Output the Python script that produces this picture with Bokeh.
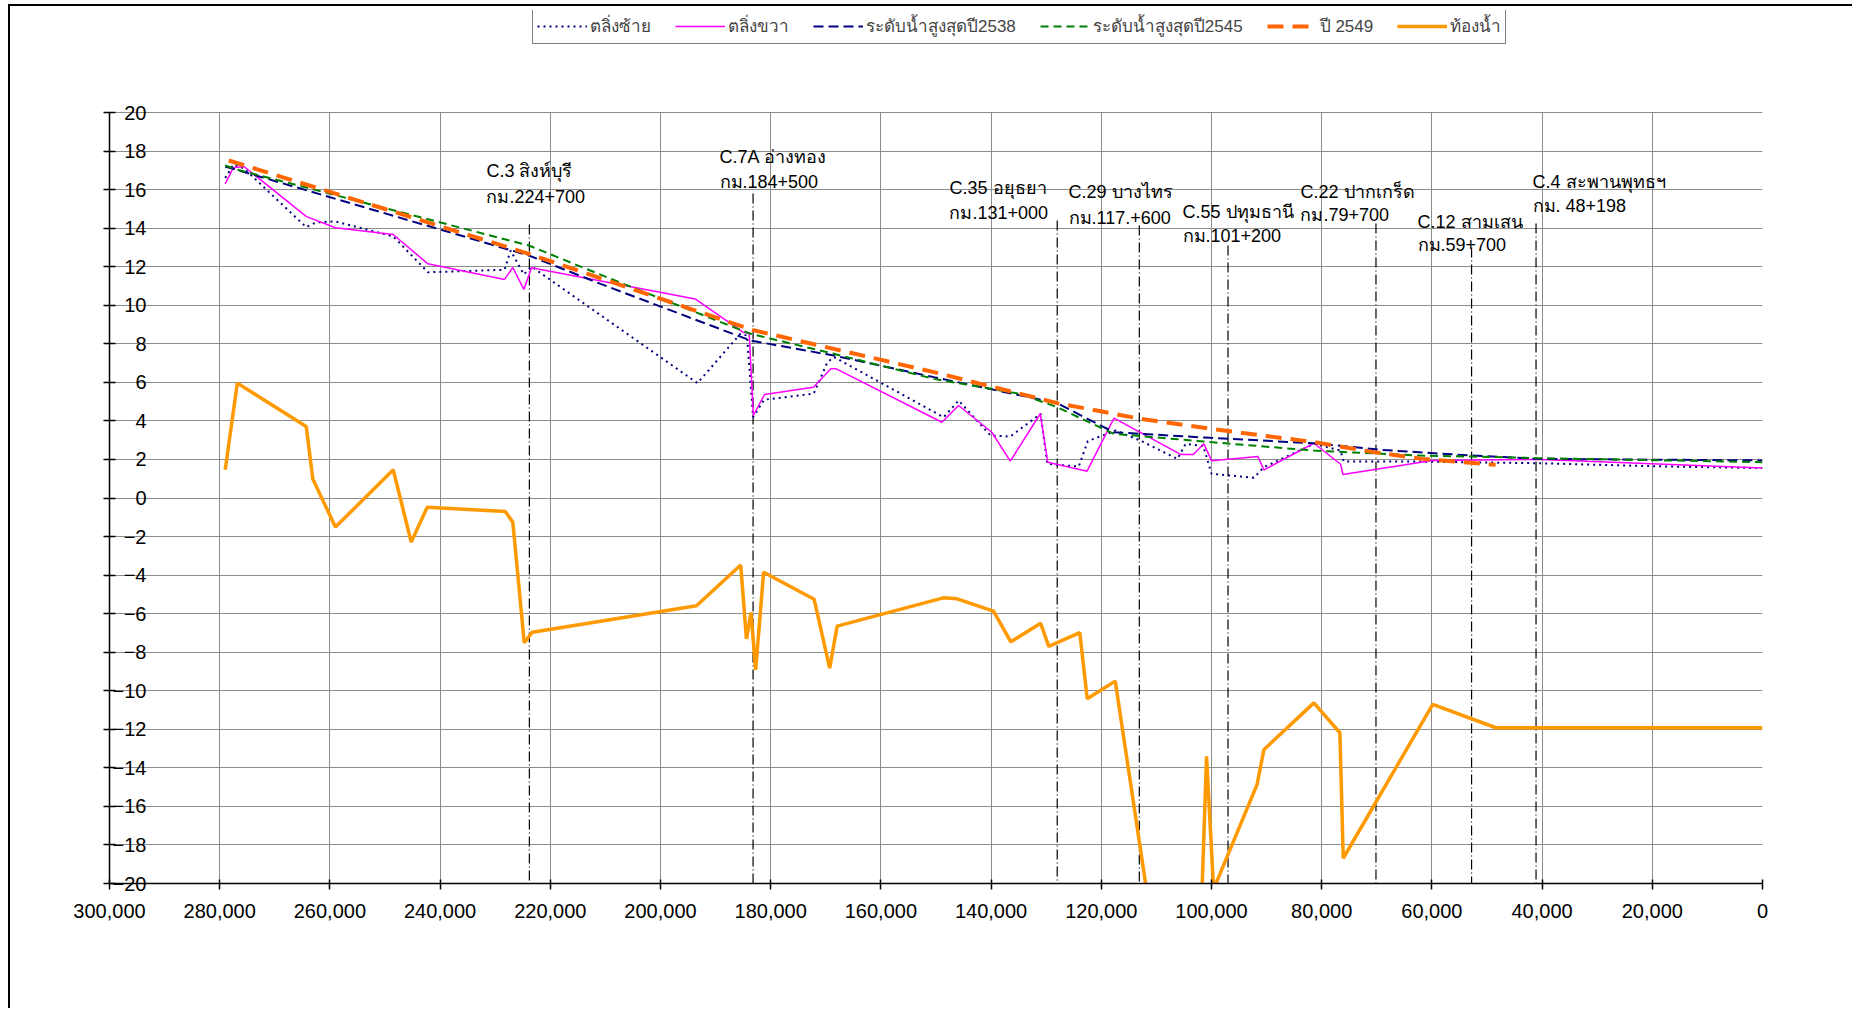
from bokeh.plotting import figure
from bokeh.models import (Range1d, FixedTicker, NumeralTickFormatter, Legend,
                          LegendItem, LabelSet, ColumnDataSource)
from bokeh.core.properties import value
from bokeh.embed import file_html
from bokeh.resources import INLINE

# ---------------- data ----------------
left_x = [279000, 277500, 275600, 264300, 262500, 259000, 248500, 242200, 228300, 227200,
          224800, 223400, 193300, 185500, 184300, 183200, 181200, 172200, 169700, 168500,
          148600, 145900, 140100, 136500, 131000, 129800, 124100, 122450, 117400, 112900,
          106200, 104700, 101500, 100000, 92300, 90500, 81400, 76600, 76000, 62000,
          40000, 20000, 0]
left_y = [16.6, 17.3, 17.1, 14.05, 14.3, 14.35, 13.57, 11.71, 11.84, 12.84,
          11.6, 12.0, 5.96, 8.52, 8.43, 4.19, 5.10, 5.41, 7.05, 7.31,
          4.19, 5.06, 3.24, 3.19, 4.37, 1.77, 1.63, 2.95, 3.50, 2.98,
          2.03, 2.81, 2.70, 1.26, 1.05, 1.60, 2.81, 2.46, 1.89, 1.89,
          1.80, 1.65, 1.55]

right_x = [279000, 277550, 275600, 264250, 258980, 248510, 242220, 228310, 226800, 224800,
           223410, 193700, 185040, 183910, 183150, 181120, 172240, 169090, 168110, 148920,
           145910, 139880, 136510, 131080, 129720, 122590, 117690, 105610, 103310, 101380,
           99980, 91580, 90490, 81420, 76570, 76150, 59930, 40270, 0]
right_y = [16.3, 17.13, 17.2, 14.6, 14.02, 13.67, 12.15, 11.34, 11.96, 10.82,
           11.94, 10.33, 8.60, 8.55, 4.28, 5.37, 5.75, 6.70, 6.70, 3.93,
           4.80, 3.41, 1.91, 4.37, 1.86, 1.39, 4.14, 2.26, 2.26, 2.81,
           1.93, 2.15, 1.46, 2.84, 1.75, 1.22, 1.95, 2.00, 1.55]

max2538_x = [279000, 223900, 210880, 183660, 168540, 150390, 128000, 120740, 117720,
             100170, 81420, 69310, 52670, 40880, 0]
max2538_y = [17.2, 12.58, 11.11, 8.17, 7.39, 6.27, 4.92, 3.85, 3.41,
             3.12, 2.84, 2.50, 2.20, 2.03, 1.95]

max2545_x = [279000, 277000, 223900, 207560, 183660, 168540, 150390, 134650, 128000,
             117720, 100170, 81420, 62050, 52670, 40880, 0]
max2545_y = [17.25, 17.05, 13.10, 11.20, 8.52, 7.48, 6.18, 5.40, 4.71,
             3.33, 2.90, 2.46, 2.20, 2.15, 2.07, 1.86]

y2549_x = [278350, 223900, 183350, 150390, 134650, 128000, 112880, 100170, 81420,
           70590, 61640, 48430]
y2549_y = [17.51, 12.67, 8.72, 6.53, 5.40, 4.92, 4.11, 3.59, 2.90,
           2.38, 2.03, 1.72]

bed_x = [279000, 276800, 264300, 263100, 259000, 248500, 245240, 242340, 228160, 226800,
         224730, 223260, 193460, 185440, 184400, 183570, 182730, 181280, 172120, 169300,
         167940, 148670, 146160, 139560, 136420, 131010, 129540, 123910, 122550, 117470,
         103560, 100900, 99620, 91720, 90500, 81420, 76700, 76090, 59850, 48390, 0]
bed_y = [1.46, 5.96, 3.71, 0.99, -1.51, 1.46, -2.29, -0.48, -0.70, -1.26,
         -7.51, -6.96, -5.59, -3.48, -7.31, -5.94, -8.91, -3.85, -5.25, -8.83,
         -6.65, -5.18, -5.23, -5.87, -7.46, -6.50, -7.70, -6.98, -10.42, -9.50,
         -36.0, -13.40, -20.3, -14.86, -13.06, -10.63, -12.18, -18.69, -10.71, -11.92, -11.92]

series_names = ["ตลิ่งซ้าย", "ตลิ่งขวา", "ระดับน้ำสูงสุดปี2538",
                "ระดับน้ำสูงสุดปี2545", "ปี 2549", "ท้องน้ำ"]

station_names = ["C.3 สิงห์บุรี", "C.7A อ่างทอง", "C.35 อยุธยา", "C.29 บางไทร",
                 "C.55 ปทุมธานี", "C.22 ปากเกร็ด", "C.12 สามเสน", "C.4 สะพานพุทธฯ"]
station_km = ["กม.224+700", "กม.184+500", "กม.131+000", "กม.117.+600",
              "กม.101+200", "กม.79+700", "กม.59+700", "กม. 48+198"]
station_x = [223800, 183200, 128000, 113100, 97000, 70150, 52800, 41100]

x_ticks = list(range(0, 300001, 20000))
y_ticks = list(range(-20, 21, 2))

# ---------------- layout / placement ----------------
line_top = [14.19, 15.8, 14.4, 14.14, 13.1, 14.24, 13.0, 14.24]
label_x = [231580, 189290, 147550, 125950, 105260, 83850, 62610, 41740]
label_y1 = [16.99, 17.67, 16.06, 15.85, 14.86, 15.90, 14.34, 16.42]
label_y2 = [15.64, 16.37, 14.81, 14.55, 13.57, 14.66, 13.10, 15.17]

# frame extends above y=20 so the legend (an in-frame annotation) is not clipped
Y_TOP = 20 + 102 / 19.275

p = figure(frame_width=1653, frame_height=873,
           min_border_left=99, min_border_right=90,
           min_border_top=4, min_border_bottom=125,
           x_range=Range1d(300000, 0), y_range=Range1d(-20, Y_TOP),
           output_backend="svg", toolbar_location=None,
           background_fill_color="white", border_fill_color="white",
           outline_line_color=None)
p.styles = {"border-top": "2px solid black", "border-left": "2px solid black",
            "margin-left": "8px", "margin-top": "4px"}

# axes
p.xaxis.ticker = FixedTicker(ticks=x_ticks)
p.yaxis.ticker = FixedTicker(ticks=y_ticks)
p.xaxis.formatter = NumeralTickFormatter(format="0,0")
p.yaxis.bounds = (-20, 20)
for ax in (p.xaxis[0], p.yaxis[0]):
    ax.axis_line_color = "black"
    ax.axis_line_width = 1.5
    ax.major_tick_line_color = "black"
    ax.major_tick_line_width = 1.5
    ax.minor_tick_line_color = None
    ax.major_label_text_font = "Liberation Sans"
    ax.major_label_text_font_size = "20px"
    ax.major_label_text_color = "black"
p.xaxis.major_tick_in = 4
p.xaxis.major_tick_out = 6
p.xaxis.major_label_standoff = 14
p.yaxis.major_tick_in = 6
p.yaxis.major_tick_out = 6
p.yaxis.major_label_standoff = -43

p.xgrid.grid_line_color = "#8c8c8c"
p.ygrid.grid_line_color = "#8c8c8c"
p.xgrid.grid_line_width = 1
p.ygrid.grid_line_width = 1
p.xgrid.cross_bounds = (-20, 20)

# station reference lines
p.segment(x0=station_x, y0=line_top, x1=station_x, y1=[-20.8] * len(station_x),
          line_color="black", line_width=1.2, line_dash="10 3 1 3")

# series
r1 = p.line(left_x, left_y, line_color="#000080", line_width=2, line_dash="2 4")
r2 = p.line(right_x, right_y, line_color="#ff00ff", line_width=1.5)
r3 = p.line(max2538_x, max2538_y, line_color="#000080", line_width=2, line_dash="10 5")
r4 = p.line(max2545_x, max2545_y, line_color="#008000", line_width=2, line_dash="8 5")
r5 = p.line(y2549_x, y2549_y, line_color="#ff6600", line_width=4, line_dash="16 9")
r6 = p.line(bed_x, bed_y, line_color="#ff9900", line_width=3.5)

# station annotations
src = ColumnDataSource(dict(x=label_x, y1=label_y1, y2=label_y2,
                            name=station_names, km=station_km))
for ycol, tcol in (("y1", "name"), ("y2", "km")):
    p.add_layout(LabelSet(x="x", y=ycol, text=tcol, source=src,
                          text_font=value("Liberation Sans"), text_font_size="18px",
                          text_color="black", text_align="left",
                          text_baseline="middle"))

legend = Legend(items=[LegendItem(label=n, renderers=[r]) for n, r in
                       zip(series_names, [r1, r2, r3, r4, r5, r6])],
                orientation="horizontal", location=(423, 839),
                border_line_color="black", border_line_width=1,
                background_fill_color="white", background_fill_alpha=1,
                padding=4, spacing=24, glyph_width=50, glyph_height=20,
                label_standoff=3, label_height=20,
                label_text_font="Liberation Sans", label_text_font_size="17px",
                margin=0)
p.add_layout(legend)

open("out.html", "w").write(file_html(p, INLINE))
